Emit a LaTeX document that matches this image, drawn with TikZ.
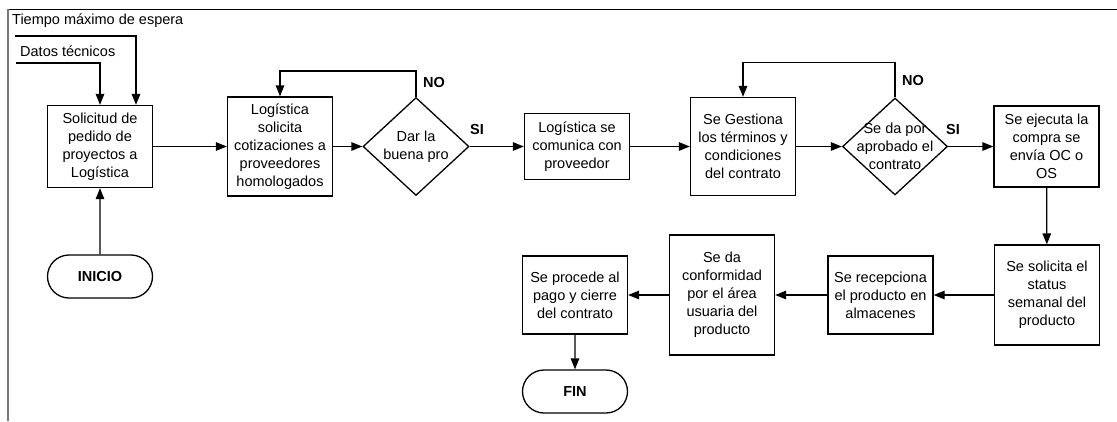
\documentclass[tikz,border=0pt]{standalone}
\usepackage{fontspec}
\setmainfont{Liberation Sans}
\usepackage{tikz}
\usetikzlibrary{arrows.meta,shapes.geometric,shapes.misc,calc}
\definecolor{linea}{RGB}{0,0,0}
\definecolor{marco}{RGB}{120,120,120}

\tikzset{
  texto/.style={font=\fontsize{14.5pt}{18pt}\selectfont, align=center, inner sep=0pt},
  proc/.style={texto, draw=linea, line width=1.3pt, minimum width=105pt},
  decis/.style={draw=linea, line width=1.3pt, diamond, inner sep=0pt, minimum width=106pt, minimum height=98pt},
  term/.style={texto, draw=linea, line width=1.3pt, rounded rectangle, minimum width=105pt, minimum height=43pt, font=\fontsize{14.5pt}{18pt}\selectfont\bfseries},
  etiq/.style={font=\fontsize{14.5pt}{18pt}\selectfont\bfseries, inner sep=0pt},
  flecha/.style={-{Triangle[length=11pt,width=8.5pt]}, line width=1.3pt, draw=linea}
}

\begin{document}
\begin{tikzpicture}[x=1pt, y=-1pt]
    \useasboundingbox (0,0) rectangle (1117,421);

    % marco
    \draw[linea, line width=1pt] (8,9) -- (1117,9);
    \draw[marco, line width=1.5pt] (8,9) -- (8,421);

    % entradas
    \node[texto, anchor=west] (tiempo) at (12,21) {Tiempo máximo de espera};
    \node[texto, anchor=west] (datos) at (20,51) {Datos técnicos};
    \coordinate (t0) at (15,36);
    \coordinate (d0) at (16,63);

    % fila superior
    \node[proc, minimum height=82pt] (sol) at (100,146.5) {Solicitud de\\pedido de\\proyectos a\\Logística};
    \node[proc, minimum height=99pt] (cot) at (280,146.5) {Logística\\solicita\\cotizaciones a\\proveedores\\homologados};
    \node[decis] (dar) at (416,146.5) {};
    \node[texto] (dart) at (dar) {Dar la\\buena pro};
    \node[proc, minimum height=66pt] (com) at (577,146.5) {Logística se\\comunica con\\proveedor};
    \node[proc, minimum height=98pt] (ges) at (743,146.5) {Se Gestiona\\los términos y\\condiciones\\del contrato};
    \node[decis, minimum width=105pt, minimum height=97pt] (apr) at (895,146.5) {};
    \node[texto] (aprt) at (apr) {Se da por\\aprobado el\\contrato};
    \node[proc, minimum height=81pt] (eje) at (1046.5,146.5) {Se ejecuta la\\compra se\\envía OC o\\OS};

    % fila inferior
    \node[proc, minimum height=100pt] (sta) at (1047,295) {Se solicita el\\status\\semanal del\\producto};
    \node[proc, minimum height=78pt] (rec) at (880.5,295) {Se recepciona\\el producto en\\almacenes};
    \node[proc, minimum height=120pt] (conf) at (722,295) {Se da\\conformidad\\por el área\\usuaria del\\producto};
    \node[proc, minimum height=78pt] (pag) at (575,295) {Se procede al\\pago y cierre\\del contrato};

    % inicio y fin
    \node[term] (ini) at (100,276.5) {INICIO};
    \node[term] (fin) at (575,391.5) {FIN};

    % etiquetas
    \node[etiq] (no1) at (434,83) {NO};
    \node[etiq] (si1) at (477,130) {SI};
    \node[etiq] (no2) at (913,81) {NO};
    \node[etiq] (si2) at (953,130) {SI};

    % conectores
    \draw[flecha] (t0) -| ([xshift=36pt]sol.north);
    \draw[flecha] (d0) -| (sol.north);
    \draw[flecha] (ini) -- (sol);
    \draw[flecha] (sol) -- (cot);
    \draw[flecha] (cot) -- (dar);
    \draw[flecha] (dar.north) -- ++(0,-26) -| (cot.north);
    \draw[flecha] (dar) -- (com);
    \draw[flecha] (com) -- (ges);
    \draw[flecha] (ges) -- (apr);
    \draw[flecha] (apr.north) -- ++(0,-35) -| (ges.north);
    \draw[flecha] (apr) -- (eje);
    \draw[flecha] (eje) -- (sta);
    \draw[flecha] (sta) -- (rec);
    \draw[flecha] (rec) -- (conf);
    \draw[flecha] (conf) -- (pag);
    \draw[flecha] (pag) -- (fin);
\end{tikzpicture}
\end{document}
